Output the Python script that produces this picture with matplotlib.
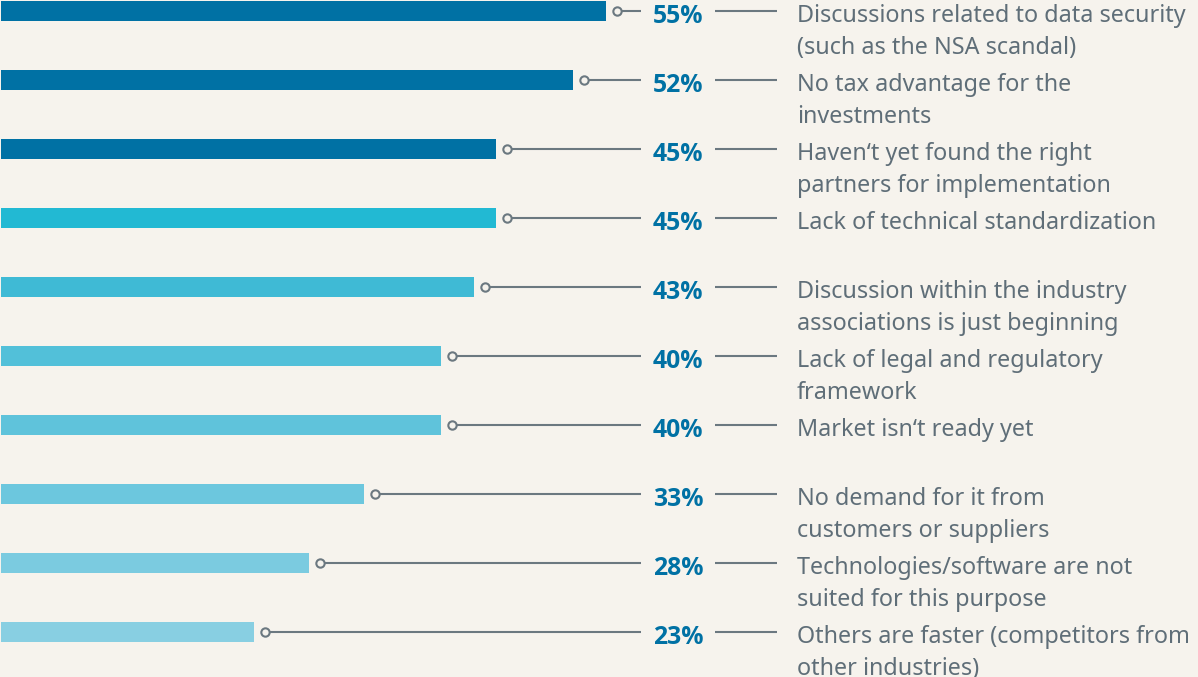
import matplotlib
matplotlib.use("Agg")
import matplotlib.pyplot as plt
from matplotlib.transforms import offset_copy

plt.rcParams['font.family'] = ['Noto Sans', 'DejaVu Sans']

labels = [
    "Discussions related to data security\n(such as the NSA scandal)",
    "No tax advantage for the\ninvestments",
    "Haven\u2018t yet found the right\npartners for implementation",
    "Lack of technical standardization",
    "Discussion within the industry\nassociations is just beginning",
    "Lack of legal and regulatory\nframework",
    "Market isn\u2018t ready yet",
    "No demand for it from\ncustomers or suppliers",
    "Technologies/software are not\nsuited for this purpose",
    "Others are faster (competitors from\nother industries)",
]
values = [55, 52, 45, 45, 43, 40, 40, 33, 28, 23]
bar_colors = ["#0071a4", "#0071a4", "#0071a4", "#22b9d3", "#3fbad5",
              "#52c0d9", "#5fc3db", "#6cc7de", "#7bcbe0", "#88cfe2"]

W, H = 1198, 677
BG = "#f6f3ed"
GRAY = "#6b7880"
TXT = "#5f6e78"
BLUE = "#0071a4"

fig = plt.figure(figsize=(W / 100, H / 100), dpi=100, facecolor=BG)
ax = fig.add_axes([0, 0, 1, 1], facecolor=BG)
ax.set_xlim(-1 / 11, (W - 1) / 11)
ax.set_ylim((H - 11) / 69, -11 / 69)
ax.axis("off")

ys = list(range(len(values)))
ax.barh(ys, values, height=20 / 69, color=bar_colors, left=0)

for y, v, lab in zip(ys, values, labels):
    cx = v + 1.0
    x_end = (641 - 1) / 11
    ax.plot([cx, x_end], [y, y], color=GRAY, lw=1.5, zorder=2, solid_capstyle="butt")
    ax.plot([cx], [y], marker="o", ms=6, mfc=BG, mec=GRAY, mew=1.5, zorder=3)
    ax.plot([(715 - 1) / 11, (777 - 1) / 11], [y, y], color=GRAY, lw=1.5,
            solid_capstyle="butt")
    tp = offset_copy(ax.transData, fig=fig, x=0, y=-12, units="dots")
    ax.text((678 - 1) / 11, y, f"{v}%", color=BLUE, fontsize=17.8,
            family=["Open Sans", "DejaVu Sans"], fontweight="bold",
            ha="center", va="baseline", transform=tp)
    for k, line in enumerate(lab.split("\n")):
        t = offset_copy(ax.transData, fig=fig, x=0, y=-(11 + 32 * k), units="dots")
        ax.text((797 - 1) / 11, y, line, color=TXT, fontsize=16.8,
                ha="left", va="baseline", transform=t)

fig.savefig("out.png", dpi=100, facecolor=BG)
